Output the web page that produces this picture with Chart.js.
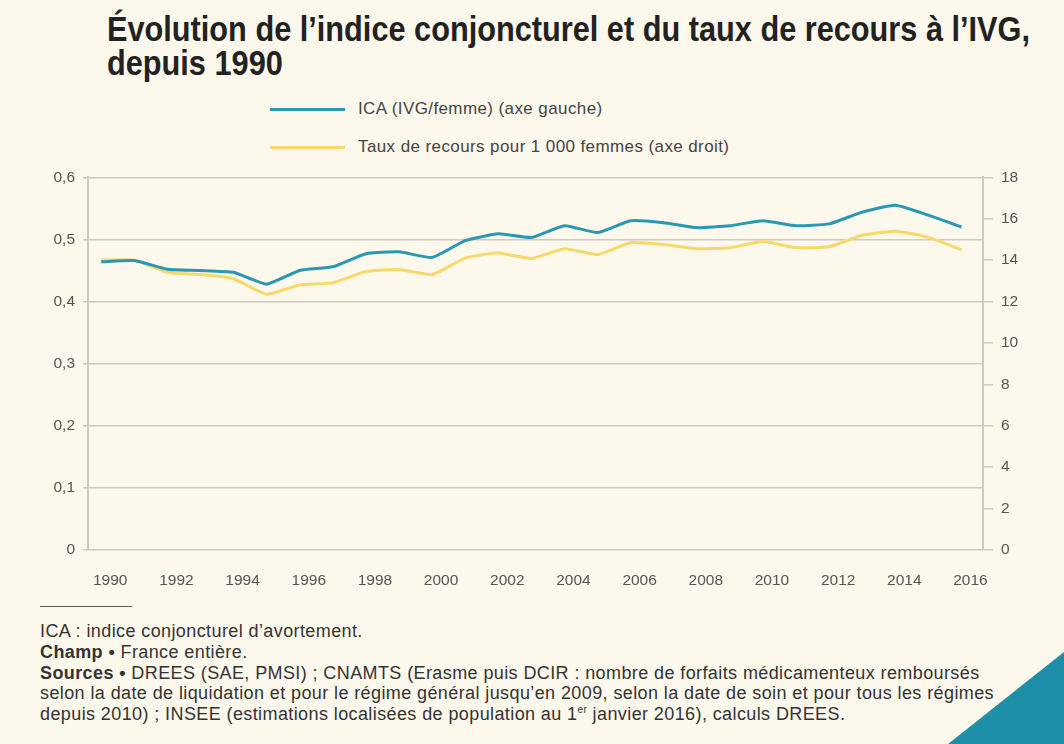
<!DOCTYPE html>
<html>
<head>
<meta charset="utf-8">
<script src="https://cdn.jsdelivr.net/npm/chart.js@4"></script>
<style>
  html, body { margin: 0; padding: 0; }
  body { width: 1064px; height: 744px; background: #fdf8ec; position: relative; overflow: hidden;
         font-family: "Liberation Sans", Arial, sans-serif; color: #333; }
  h1 { position: absolute; left: 107px; top: 12px; margin: 0; font-family: "Liberation Sans", sans-serif;
       font-weight: bold; font-size: 35px; line-height: 34px; color: #222; white-space: nowrap;
       transform-origin: 0 0; }
  h1 span { display: inline-block; }
  .legend { position: absolute; left: 270px; font-size: 17px; letter-spacing: 0.4px; color: #444; }
  .legend span.sw { display: inline-block; width: 75px; height: 3px; vertical-align: middle; margin-right: 13px; }
  #wrap { position: absolute; left: 0; top: 160px; width: 1064px; height: 440px; }
  .rule { position: absolute; left: 40px; top: 606px; width: 92px; height: 1px; background: #555; }
  .notes { position: absolute; left: 40px; top: 621px; font-size: 18px; letter-spacing: 0.4px; line-height: 20.8px; color: #333; white-space: nowrap; }
  .notes sup { font-size: 10px; line-height: 0; }
  .corner { position: absolute; right: 0; bottom: 0; width: 116px; height: 92px; background: #1d8fa8; clip-path: polygon(100% 0, 100% 100%, 0 100%); }
</style>
</head>
<body>
<h1 id="title"><span id="t1">Évolution de l’indice conjoncturel et du taux de recours à l’IVG,</span><br><span>depuis 1990</span></h1>
<div class="legend" style="top:99px"><span class="sw" style="background:#2a97b3"></span>ICA (IVG/femme) (axe gauche)</div>
<div class="legend" style="top:137px"><span class="sw" style="background:#f6d96a"></span>Taux de recours pour 1 000 femmes (axe droit)</div>
<div id="wrap"><canvas id="chart"></canvas></div>
<div class="rule"></div>
<div class="notes">
ICA : indice conjoncturel d’avortement.<br>
<b>Champ •</b> France entière.<br>
<b>Sources •</b> DREES (SAE, PMSI) ; CNAMTS (Erasme puis DCIR : nombre de forfaits médicamenteux remboursés<br>
selon la date de liquidation et pour le régime général jusqu’en 2009, selon la date de soin et pour tous les régimes<br>
depuis 2010) ; INSEE (estimations localisées de population au 1<sup>er</sup> janvier 2016), calculs DREES.
</div>
<div class="corner"></div>
<script>
var years = [1990, 1991, 1992, 1993, 1994, 1995, 1996, 1997, 1998, 1999, 2000, 2001, 2002,
             2003, 2004, 2005, 2006, 2007, 2008, 2009, 2010, 2011, 2012, 2013, 2014, 2015, 2016];
var ica = [0.464, 0.466, 0.452, 0.450, 0.447, 0.428, 0.450, 0.456, 0.477, 0.480, 0.471, 0.498, 0.509,
           0.503, 0.522, 0.511, 0.530, 0.527, 0.519, 0.522, 0.530, 0.522, 0.525, 0.544, 0.555, 0.539, 0.520];
var taux = [14.0, 14.0, 13.4, 13.3, 13.1, 12.35, 12.8, 12.9, 13.45, 13.55, 13.3, 14.1, 14.35,
            14.07, 14.55, 14.27, 14.84, 14.75, 14.55, 14.6, 14.9, 14.6, 14.65, 15.2, 15.4, 15.1, 14.5];
var leftTicks = [0, 0.1, 0.2, 0.3, 0.4, 0.5, 0.6];
var rightTicks = [0, 2, 4, 6, 8, 10, 12, 14, 16, 18];

// squeeze the bold title to the condensed width of the original
var t1 = document.getElementById('t1');
var k = 923 / t1.getBoundingClientRect().width;
document.getElementById('title').style.transform = 'scaleX(' + k + ')';

var tickFont = { family: "Liberation Sans", size: 15.5 };
var gridColor = "#cfcac0";

function pts(vals) {
    return years.map(function (y, i) { return { x: y, y: vals[i] }; });
}

var ctx = document.getElementById('chart').getContext('2d');
var myChart = new Chart(ctx, {
    type: 'line',
    data: {
        datasets: [{
            label: 'ICA (IVG/femme) (axe gauche)',
            data: pts(ica),
            yAxisID: 'yL',
            borderColor: '#2a97b3',
            borderWidth: 3,
            pointRadius: 0,
            tension: 0.15
        }, {
            label: 'Taux de recours pour 1 000 femmes (axe droit)',
            data: pts(taux),
            yAxisID: 'yR',
            borderColor: '#f6d96a',
            borderWidth: 3,
            pointRadius: 0,
            tension: 0.15
        }]
    },
    options: {
        responsive: true,
        maintainAspectRatio: false,
        animation: false,
        layout: { padding: { top: 14, left: 0, right: 0, bottom: 0 } },
        plugins: { legend: { display: false }, tooltip: { enabled: false } },
        scales: {
            x: {
                type: 'linear',
                min: 1989.6,
                max: 2016.65,
                afterBuildTicks: function (axis) {
                    axis.ticks = years.filter(function (y) { return y % 2 === 0; }).map(function (v) { return { value: v }; });
                },
                grid: { display: false },
                border: { display: false },
                ticks: { font: tickFont, color: '#555', padding: 13, labelOffset: 9, maxRotation: 0,
                         callback: function (v) { return String(v); } },
                afterFit: function (axis) { axis.height = 50; }
            },
            yL: {
                position: 'left',
                min: 0, max: 0.6,
                afterBuildTicks: function (axis) {
                    axis.ticks = leftTicks.map(function (v) { return { value: v }; });
                },
                grid: { color: gridColor, lineWidth: 1.5, tickLength: 5 },
                border: { color: gridColor, width: 2 },
                ticks: { font: tickFont, color: '#555', padding: 8,
                         callback: function (v) { return v === 0 ? '0' : v.toFixed(1).replace('.', ','); } },
                afterFit: function (axis) { axis.width = 88; }
            },
            yR: {
                position: 'right',
                min: 0, max: 18,
                afterBuildTicks: function (axis) {
                    axis.ticks = rightTicks.map(function (v) { return { value: v }; });
                },
                grid: { drawOnChartArea: false, color: gridColor, lineWidth: 1.5, tickLength: 10 },
                border: { color: gridColor, width: 2 },
                ticks: { font: tickFont, color: '#555', padding: 8 },
                afterFit: function (axis) { axis.width = 81; }
            }
        }
    }
});
</script>
</body>
</html>
